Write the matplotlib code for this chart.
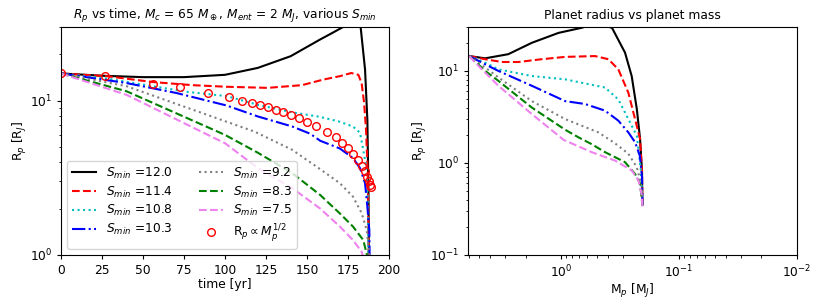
import matplotlib
matplotlib.use("Agg")
import matplotlib.pyplot as plt

# ---------------- data: left panel (time vs radius) ----------------
smin_labels = ["12.0", "11.4", "10.8", "10.3", "9.2", "8.3", "7.5"]
colors = ["k", "r", "c", "b", "grey", "g", "violet"]
styles = ["-", "--", ":", "-.", ":", "--", "--"]

t_s120 = [0, 25, 50, 75, 100, 120, 140, 158, 165, 172, 178, 182.7, 185.4, 186.8, 187.5, 187.8]
R_s120 = [15, 14.5, 14.2, 14.2, 14.7, 16.3, 19.4, 24.9, 27.3, 30, 38, 30, 15.9, 7.5, 2.5, 0.8]

t_s114 = [0, 28, 56, 80, 101, 126, 147, 160, 170, 177, 181.3, 183.3, 184.8, 186, 187, 187.8]
R_s114 = [15, 14.4, 13.2, 12.6, 12.3, 12.1, 12.6, 13.7, 14.4, 15.1, 14.7, 13.0, 9.7, 6.5, 3.5, 0.8]

t_s108 = [0, 28, 56, 77, 101, 120, 141, 158, 170, 178, 182.3, 184.3, 186.4, 187.2, 187.5]
R_s108 = [15, 13.9, 12.4, 11.4, 10.7, 9.4, 8.4, 7.85, 7.3, 6.8, 6.2, 4.8, 3.56, 2.0, 0.8]

t_s103 = [0, 40, 70.5, 101, 120, 141, 152, 158, 170, 178, 182.3, 185.4, 186.8, 188, 188.3]
R_s103 = [15, 13.0, 11.2, 9.3, 7.9, 6.8, 6.1, 5.5, 4.9, 4.25, 3.66, 2.92, 2.06, 1.45, 0.8]

t_s92 = [0, 40, 101, 118, 141, 158, 170, 178, 183.3, 186.4, 188, 188.3]
R_s92 = [15, 12.4, 7.3, 6.3, 4.8, 3.6, 2.92, 2.39, 1.87, 1.45, 1.02, 0.8]

t_s83 = [0, 40, 100, 120, 141, 158, 170, 178, 184.3, 186.4, 186.8]
R_s83 = [15, 11.5, 6.0, 4.6, 3.39, 2.45, 1.86, 1.53, 1.25, 1.02, 0.9]

t_s75 = [0, 40, 91, 100, 120, 141, 158, 170, 178, 183.3, 184.5]
R_s75 = [15, 10.9, 5.9, 5.3, 3.66, 2.71, 2.0, 1.53, 1.25, 1.05, 0.95]

t_fit = [0, 26.8, 56.3, 72.6, 89.8, 102.6, 110.6, 116.3, 121.3, 126, 130.9, 135.2,
         140.2, 145.1, 150.2, 155.3, 162, 167.5, 171.5, 175.2, 178.2, 181.3, 183.3,
         185.4, 186.8, 187.8, 188.5, 189]
R_fit = [15, 14.4, 12.8, 12.2, 11.2, 10.5, 10.0, 9.7, 9.4, 9.1, 8.7, 8.4,
         8.1, 7.7, 7.3, 6.9, 6.3, 5.8, 5.3, 4.9, 4.5, 4.1, 3.8,
         3.5, 3.2, 3.0, 2.85, 2.75]

# ---------------- data: right panel (mass vs radius) ----------------
M_s120 = [6.0, 4.4, 2.8, 1.77, 1.05, 0.67, 0.5, 0.37, 0.287, 0.252, 0.228, 0.214, 0.206, 0.2045]
Rm_s120 = [14.5, 13.7, 15.2, 20.2, 25.9, 29.4, 33, 29.4, 15.8, 8.8, 3.86, 1.83, 0.8, 0.35]

M_s114 = [6.0, 4.4, 3.18, 2.3, 1.46, 0.925, 0.515, 0.397, 0.327, 0.269, 0.236, 0.214, 0.206, 0.2045]
Rm_s114 = [14.5, 13.4, 12.5, 12.5, 13.4, 14.2, 14.5, 13.4, 10.4, 5.8, 3.0, 1.83, 0.8, 0.35]

M_s108 = [6.0, 4.4, 3.4, 1.77, 0.925, 0.424, 0.327, 0.269, 0.228, 0.21, 0.2045]
Rm_s108 = [14.5, 12.3, 10.4, 8.8, 8.1, 6.6, 4.9, 3.0, 1.98, 0.8, 0.35]

M_s103 = [6.0, 4.4, 3.4, 1.77, 0.925, 0.626, 0.424, 0.327, 0.269, 0.236, 0.215, 0.206, 0.2045]
Rm_s103 = [14.5, 11.8, 10.0, 6.9, 4.7, 4.37, 3.7, 2.88, 2.15, 1.68, 1.2, 0.7, 0.35]

M_s92 = [6.0, 4.4, 3.4, 1.77, 0.925, 0.483, 0.35, 0.269, 0.228, 0.21, 0.2045]
Rm_s92 = [14.5, 10.9, 8.5, 4.7, 3.0, 2.15, 1.64, 1.26, 0.9, 0.6, 0.35]

M_s83 = [6.0, 4.4, 3.4, 1.77, 0.925, 0.713, 0.55, 0.424, 0.287, 0.236, 0.214, 0.2045]
Rm_s83 = [14.5, 10.0, 7.8, 4.0, 2.3, 1.9, 1.6, 1.31, 1.02, 0.76, 0.6, 0.35]

M_s75 = [6.0, 5.0, 3.4, 1.77, 0.95, 0.55, 0.348, 0.252, 0.221, 0.207, 0.2045]
Rm_s75 = [14.5, 11.3, 6.9, 3.4, 1.78, 1.31, 1.06, 0.83, 0.65, 0.45, 0.33]

t_series = [(t_s120, R_s120), (t_s114, R_s114), (t_s108, R_s108), (t_s103, R_s103),
            (t_s92, R_s92), (t_s83, R_s83), (t_s75, R_s75)]
m_series = [(M_s120, Rm_s120), (M_s114, Rm_s114), (M_s108, Rm_s108), (M_s103, Rm_s103),
            (M_s92, Rm_s92), (M_s83, Rm_s83), (M_s75, Rm_s75)]

plt.rcParams["font.size"] = 8.8
for ax_name in ("xtick", "ytick"):
    plt.rcParams[ax_name + ".major.size"] = 3.1
    plt.rcParams[ax_name + ".major.pad"] = 3.1
    plt.rcParams[ax_name + ".minor.size"] = 1.8

fig = plt.figure(figsize=(8.22, 3.08), dpi=100)
ax1 = fig.add_axes([61 / 822, 1 - 255 / 308, (389 - 61) / 822, (255 - 27) / 308])
ax2 = fig.add_axes([468 / 822, 1 - 255 / 308, (797 - 468) / 822, (255 - 27) / 308])

lw = 1.5
for (t, R), lab, c, ls in zip(t_series, smin_labels, colors, styles):
    ax1.plot(t, R, color=c, ls=ls, lw=lw, label=r"$S_{min}$ =" + lab)
ax1.plot(t_fit, R_fit, "o", mfc="none", mec="r", ms=5.5, mew=1.0,
         label=r"R$_p \propto M_p^{1/2}$")
ax1.set_yscale("log")
ax1.set_xlim(0, 200)
ax1.set_ylim(1, 30)
ax1.set_xlabel("time [yr]", labelpad=1)
ax1.set_ylabel(r"R$_p$ [R$_J$]", labelpad=1)
ax1.set_title(r"$R_p$ vs time, $M_c$ = 65 $M_\oplus$, $M_{ent}$ = 2 $M_J$, various $S_{min}$",
              fontsize=8.8)
ax1.legend(loc="lower left", ncol=2, fontsize=8.8, labelspacing=0.3,
           handlelength=2.0, columnspacing=2.1, borderpad=0.4)

for (M, R), c, ls in zip(m_series, colors, styles):
    ax2.plot(M, R, color=c, ls=ls, lw=lw)
ax2.set_xscale("log")
ax2.set_yscale("log")
ax2.set_xlim(6.15, 0.01)
ax2.set_ylim(0.1, 30)
ax2.set_xlabel(r"M$_p$ [M$_J$]", labelpad=1)
ax2.set_ylabel(r"R$_p$ [R$_J$]", labelpad=1)
ax2.set_title("Planet radius vs planet mass", fontsize=8.8)

fig.savefig("out.png", dpi=100)
